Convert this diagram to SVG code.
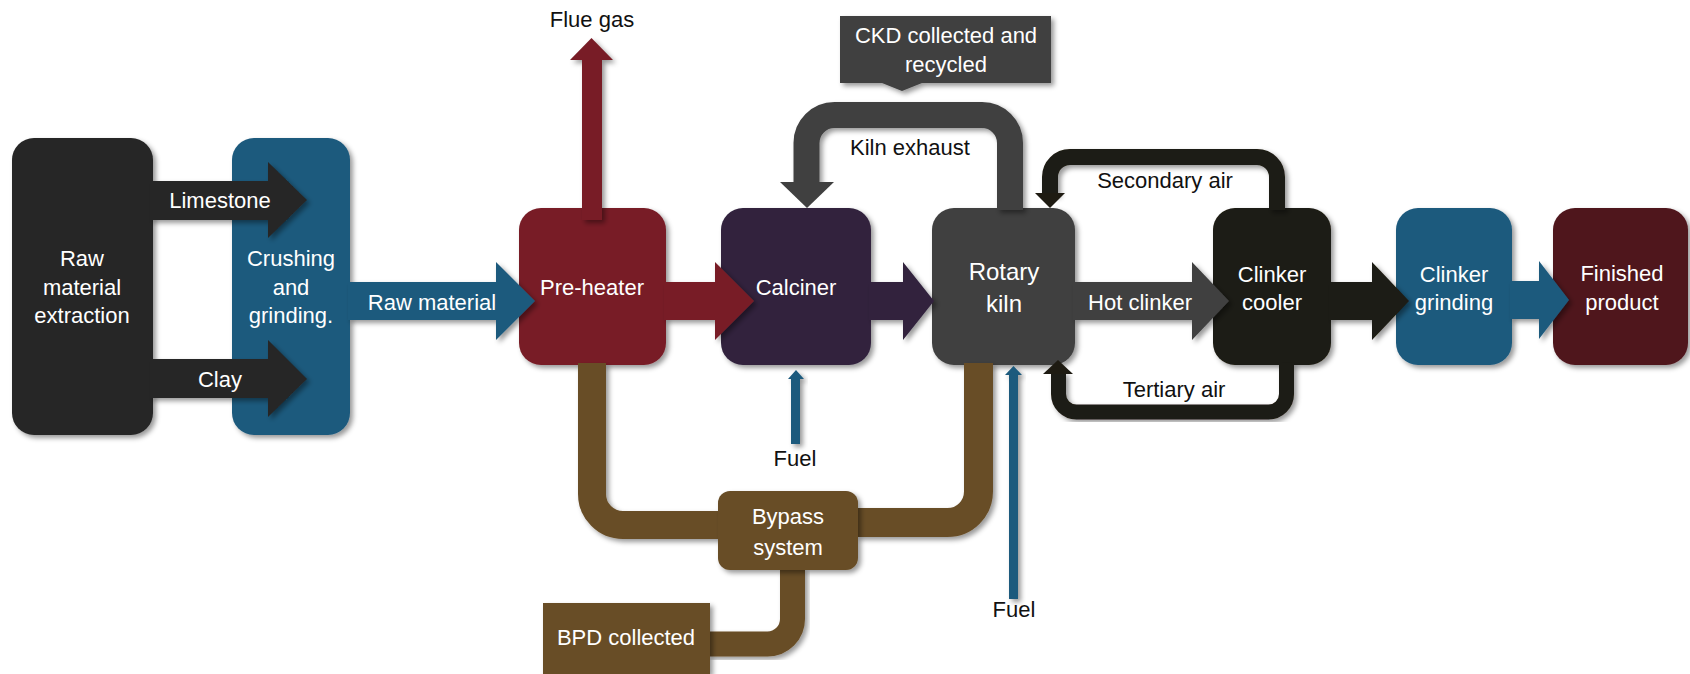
<svg xmlns="http://www.w3.org/2000/svg" width="1690" height="674" viewBox="0 0 1690 674">
<defs>
<filter id="sh" x="-20%" y="-20%" width="140%" height="140%">
<feDropShadow dx="3" dy="3" stdDeviation="2.5" flood-color="#000" flood-opacity="0.4"/>
</filter>
<style>
text{font-family:"Liberation Sans",Arial,sans-serif;font-size:22px;text-anchor:middle}
.w{fill:#ffffff}
.k{fill:#111111}
.big{font-size:24px}
.box{filter:url(#sh)}
.sh{filter:url(#sh)}
.pipe{fill:none;filter:url(#sh)}
</style>
</defs>
<rect width="1690" height="674" fill="#ffffff"/>

<g id="nodes">
<g id="raw-extraction">
<rect class="box" x="12" y="138" width="141" height="297" rx="22" fill="#262626"/>
<text class="w" x="82" y="266">Raw</text>
<text class="w" x="82" y="295">material</text>
<text class="w" x="82" y="323">extraction</text>
</g>
<g id="crushing">
<rect class="box" x="232" y="138" width="118" height="297" rx="22" fill="#1e5a7d"/>
<text class="w" x="291" y="266">Crushing</text>
<text class="w" x="291" y="295">and</text>
<text class="w" x="291" y="323">grinding.</text>
</g>
<g id="preheater">
<rect class="box" x="519" y="208" width="147" height="157" rx="22" fill="#781f28"/>
</g>
<g id="calciner">
<rect class="box" x="721" y="208" width="150" height="157" rx="22" fill="#30223d"/>
</g>
<g id="rotary-kiln">
<rect class="box" x="932" y="208" width="143" height="157" rx="22" fill="#404040"/>
</g>
<g id="clinker-cooler">
<rect class="box" x="1213" y="208" width="118" height="157" rx="22" fill="#1e1b12"/>
</g>
<g id="clinker-grinding">
<rect class="box" x="1396" y="208" width="116" height="157" rx="22" fill="#1e5a7d"/>
</g>
<g id="finished-product">
<rect class="box" x="1553" y="208" width="135" height="157" rx="22" fill="#4f161c"/>
</g>
<g id="ckd">
<polygon class="sh" points="840,16 1051,16 1051,83 922,83 902,91 882,83 840,83" fill="#404040"/>
<text class="w" x="946" y="43">CKD collected and</text>
<text class="w" x="946" y="72">recycled</text>
</g>
</g>

<g id="connectors">
<!-- brown bypass pipes -->
<path class="pipe" d="M592,363 V494 A31,31 0 0 0 623,525 H720" stroke="#684d27" stroke-width="28"/>
<path class="pipe" d="M978.5,363 V491.5 A31,31 0 0 1 947.5,522.5 H856" stroke="#684d27" stroke-width="29"/>
<path class="pipe" d="M792.5,568 V619 A25,25 0 0 1 767.5,644 H708" stroke="#684d27" stroke-width="25"/>
<!-- horizontal flow arrows -->
<polygon class="sh" points="150,181 268,181 268,162 307,200 268,238 268,220 150,220" fill="#262626"/>
<polygon class="sh" points="150,359 268,359 268,340 307,379 268,417 268,398 150,398" fill="#262626"/>
<polygon class="sh" points="348,282 496,282 496,262 535,301 496,340 496,320 348,320" fill="#1e5a7d"/>
<polygon class="sh" points="664,282 715,282 715,262 754,301 715,340 715,320 664,320" fill="#781f28"/>
<polygon class="sh" points="869,282 903,282 903,262 934,301 903,340 903,320 869,320" fill="#30223d"/>
<polygon class="sh" points="1073,282 1192,282 1192,262 1229,301 1192,340 1192,320 1073,320" fill="#404040"/>
<polygon class="sh" points="1329,282 1372,282 1372,262 1409,301 1372,340 1372,320 1329,320" fill="#1e1b12"/>
<polygon class="sh" points="1510,281 1539,281 1539,261 1569,300 1539,339 1539,319 1510,319" fill="#1e5a7d"/>
<!-- flue gas -->
<polygon class="sh" points="582,220 582,60 570,60 591.5,38 613,60 602,60 602,220" fill="#781f28"/>
<!-- kiln exhaust loop -->
<path class="pipe" d="M1010,210 V143 A28,28 0 0 0 982,115 H834.5 A28,28 0 0 0 806.5,143 V184" stroke="#404040" stroke-width="26"/>
<polygon points="780,182 834,182 807,208" fill="#404040"/>
<!-- secondary air -->
<path class="pipe" d="M1277,210 V177 A20,20 0 0 0 1257,157 H1070 A20,20 0 0 0 1050,177 V195" stroke="#1e1b12" stroke-width="16"/>
<polygon points="1035,193 1065,193 1050,208" fill="#1e1b12"/>
<!-- tertiary air -->
<path class="pipe" d="M1286.5,363 V394 A18,18 0 0 1 1268.5,412 H1076.5 A18,18 0 0 1 1058.5,394 V372" stroke="#1e1b12" stroke-width="15"/>
<polygon points="1043,374 1073,374 1058,360" fill="#1e1b12"/>
<!-- fuel arrows -->
<polygon class="sh" points="791,444 791,379 788,379 796,370 804,379 800,379 800,444" fill="#1e5a7d"/>
<polygon class="sh" points="1009,599 1009,375 1005,375 1013.5,366 1022,375 1018,375 1018,599" fill="#1e5a7d"/>
</g>

<g id="bypass-system">
<rect class="box" x="718" y="491" width="140" height="79" rx="12" fill="#684d27"/>
<text class="w" x="788" y="524">Bypass</text>
<text class="w" x="788" y="555">system</text>
</g>
<g id="bpd-collected">
<rect class="box" x="543" y="603" width="167" height="71" fill="#684d27"/>
<text class="w" x="626" y="645">BPD collected</text>
</g>

<g id="labels">
<text class="w" x="220" y="208">Limestone</text>
<text class="w" x="220" y="387">Clay</text>
<text class="w" x="432" y="310">Raw material</text>
<text class="w" x="592" y="295">Pre-heater</text>
<text class="w" x="796" y="295">Calciner</text>
<text class="w big" x="1004" y="280">Rotary</text>
<text class="w big" x="1004" y="312">kiln</text>
<text class="w" x="1140" y="310">Hot clinker</text>
<text class="w" x="1272" y="282">Clinker</text>
<text class="w" x="1272" y="310">cooler</text>
<text class="w" x="1454" y="282">Clinker</text>
<text class="w" x="1454" y="310">grinding</text>
<text class="w" x="1622" y="281">Finished</text>
<text class="w" x="1622" y="310">product</text>
<text class="k" x="592" y="27">Flue gas</text>
<text class="k" x="910" y="155">Kiln exhaust</text>
<text class="k" x="1165" y="188">Secondary air</text>
<text class="k" x="1174" y="397">Tertiary air</text>
<text class="k" x="795" y="466">Fuel</text>
<text class="k" x="1014" y="617">Fuel</text>
</g>
</svg>
